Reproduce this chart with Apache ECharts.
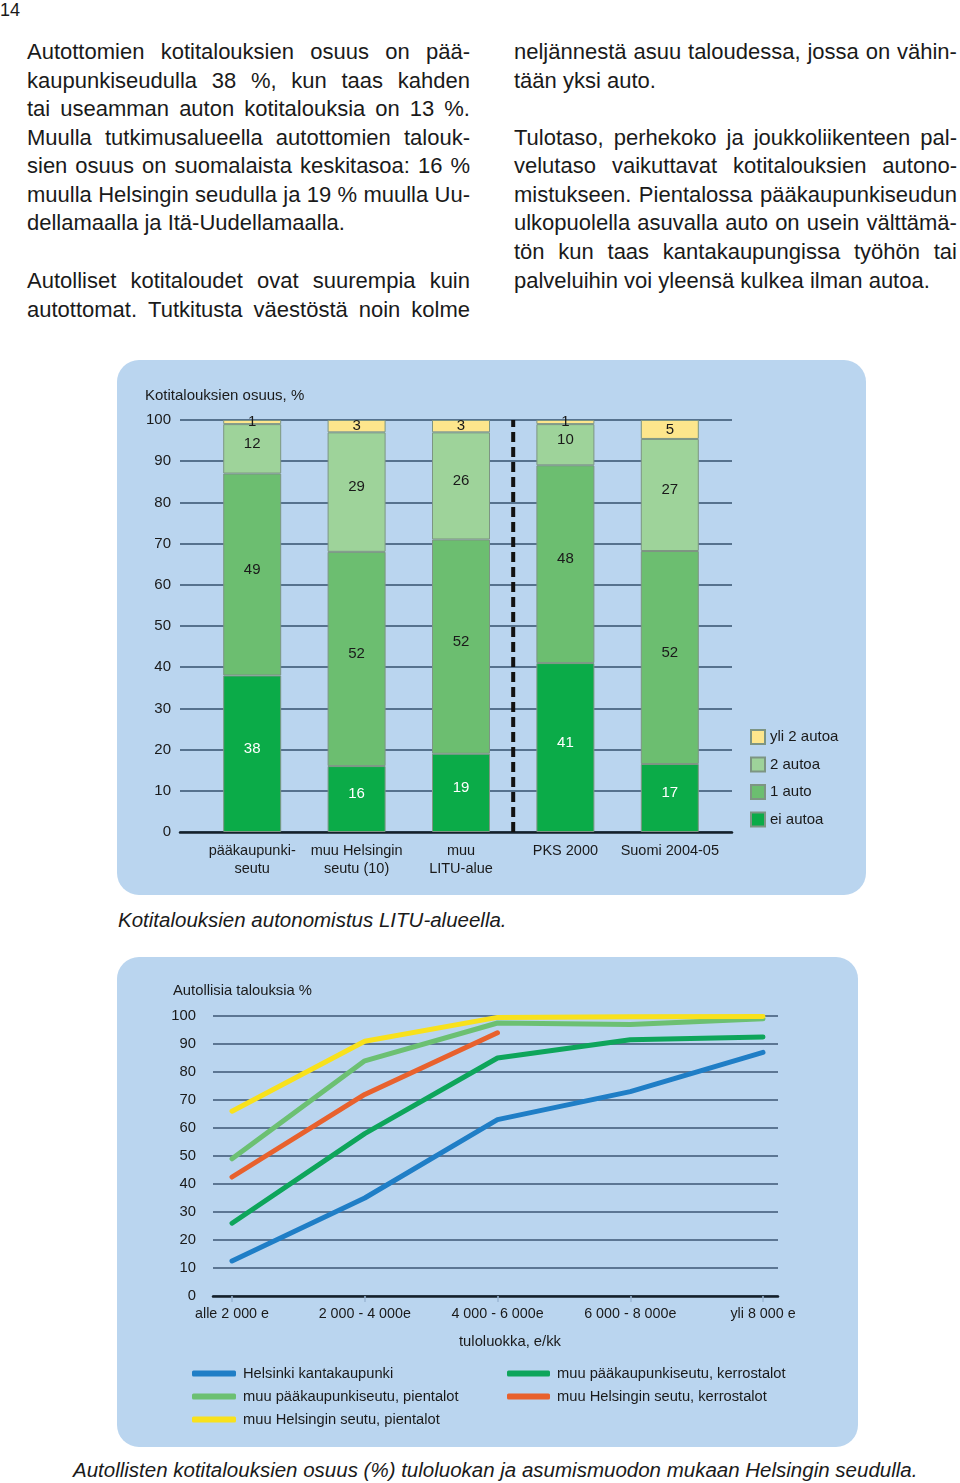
<!DOCTYPE html>
<html><head><meta charset="utf-8">
<script src="https://cdn.jsdelivr.net/npm/echarts@6/dist/echarts.min.js"></script>
<style>
html,body{margin:0;padding:0;background:#fff}
body{width:960px;height:1483px;position:relative;overflow:hidden;font-family:"Liberation Sans",Arial,sans-serif;color:#1a1a1a}
.pn{position:absolute;background:#bad5ef;border-radius:22px}
.ln{position:absolute;width:443px;height:28px;line-height:28px;font-size:22px;white-space:nowrap}
.ln.j{display:flex;justify-content:space-between}
.cap{position:absolute;font-style:italic;font-size:20.5px;line-height:24px;white-space:nowrap}
#chart{position:absolute;left:0;top:0;width:960px;height:1483px}
</style></head><body>
<div style="position:absolute;left:0;top:0;font-size:18px;line-height:20px">14</div>
<div id="txt"></div>
<div class="pn" style="left:117px;top:360px;width:749px;height:535px"></div>
<div class="pn" style="left:117px;top:957px;width:741px;height:490px"></div>
<div class="cap" style="left:118px;top:908px">Kotitalouksien autonomistus LITU-alueella.</div>
<div class="cap" style="left:73px;top:1458px">Autollisten kotitalouksien osuus (%) tuloluokan ja asumismuodon mukaan Helsingin seudulla.</div>
<div id="chart"></div>
<script>
// ---- text layout ----
const leftCol = [
  ["Autottomien kotitalouksien osuus on pää-",52,1],
  ["kaupunkiseudulla 38 %, kun taas kahden",81,1],
  ["tai useamman auton kotitalouksia on 13 %.",109,1],
  ["Muulla tutkimusalueella autottomien talouk-",138,1],
  ["sien osuus on suomalaista keskitasoa: 16 %",166,1],
  ["muulla Helsingin seudulla ja 19 % muulla Uu-",195,1],
  ["dellamaalla ja Itä-Uudellamaalla.",223,0],
  ["Autolliset kotitaloudet ovat suurempia kuin",281,1],
  ["autottomat. Tutkitusta väestöstä noin kolme",310,1]
];
const rightCol = [
  ["neljännestä asuu taloudessa, jossa on vähin-",52,1],
  ["tään yksi auto.",81,0],
  ["Tulotaso, perhekoko ja joukkoliikenteen pal-",138,1],
  ["velutaso vaikuttavat kotitalouksien autono-",166,1],
  ["mistukseen. Pientalossa pääkaupunkiseudun",195,1],
  ["ulkopuolella asuvalla auto on usein välttämä-",223,1],
  ["tön kun taas kantakaupungissa työhön tai",252,1],
  ["palveluihin voi yleensä kulkea ilman autoa.",281,0]
];
const txt = document.getElementById('txt');
function addLines(lines, left){
  lines.forEach(([t,y,j])=>{
    const d=document.createElement('div');
    d.className='ln'+(j?' j':'');
    d.style.left=left+'px'; d.style.top=(y-14)+'px';
    if(j){ t.split(' ').forEach(w=>{const s=document.createElement('span');s.textContent=w;d.appendChild(s);}); }
    else d.textContent=t;
    txt.appendChild(d);
  });
}
addLines(leftCol,27); addLines(rightCol,514);

// ---- data: bar chart ----
const barCategories = ['pääkaupunki-\nseutu','muu Helsingin\nseutu (10)','muu\nLITU-alue','PKS 2000','Suomi 2004-05'];
const eiAutoa    = [38, 16, 19, 41, 16.5];
const yksiAuto   = [49, 52, 52, 48, 51.7];
const kaksiAutoa = [12, 29, 26, 10, 27.2];
const yli2Autoa  = [1, 3, 3, 1, 4.6];
const dividerAfter = 3; // dashed separator after this many categories
const barSeriesNames = ['ei autoa','1 auto','2 autoa','yli 2 autoa'];
const barColors = ['#0bab48','#6cbe70','#9ed39a','#fde68c'];

// ---- data: line chart ----
const incomeClasses = ['alle 2 000 e','2 000 - 4 000e','4 000 - 6 000e','6 000 - 8 000e','yli 8 000 e'];
const helsinkiKantakaupunki = [12.5, 35, 63, 73, 87];
const pksKerrostalot        = [26, 58, 85, 91.5, 92.5];
const helsSeutuKerrostalot  = [42.5, 72, 94, null, null];
const pksPientalot          = [49, 84, 97.5, 97, 99];
const helsSeutuPientalot    = [66, 91, 99.5, 99.7, 99.8];
const lineNames = ['Helsinki kantakaupunki','muu pääkaupunkiseutu, kerrostalot','muu Helsingin seutu, kerrostalot','muu pääkaupunkiseutu, pientalot','muu Helsingin seutu, pientalot'];
const lineColors = ['#1f7ec6','#0ea55b','#e8612d','#6cc072','#f8e11c'];

const TXT = '#1a1a1a', FONT = '"Liberation Sans", Arial, sans-serif';
const chart = echarts.init(document.getElementById('chart'), null, {renderer:'canvas'});

const barData = [eiAutoa, yksiAuto, kaksiAutoa, yli2Autoa];
const series = [];
barData.forEach((arr,i)=>{
  series.push({
    name: barSeriesNames[i], type:'bar', stack:'s', xAxisIndex:1, yAxisIndex:1,
    barWidth:58, data:arr,
    itemStyle:{color:barColors[i], borderColor:'#7d9583', borderWidth:1},
    label:{show:true, position:'inside', formatter:p=>Math.round(p.value),
      fontSize:15, fontFamily:FONT, color: i===0?'#ffffff':TXT, textBorderWidth:0,
      offset: i===3?[0,0]:[0,-5]},
    emphasis:{disabled:true}, z:2
  });
});
series.push({
  name:'divider', type:'line', xAxisIndex:2, yAxisIndex:1, symbol:'none', silent:true,
  data:[[dividerAfter,0],[dividerAfter,100]],
  lineStyle:{color:'#111', width:4, type:[10,5]}, z:5
});
const lineData = [helsinkiKantakaupunki, pksKerrostalot, helsSeutuKerrostalot, pksPientalot, helsSeutuPientalot];
lineData.forEach((arr,i)=>{
  series.push({
    name:lineNames[i], type:'line', xAxisIndex:4, yAxisIndex:3, data:arr,
    symbol:'none', smooth:false, connectNulls:false,
    lineStyle:{color:lineColors[i], width:5, cap:'round', join:'round'},
    itemStyle:{color:lineColors[i]}, emphasis:{disabled:true}, z:3+i
  });
});

const option = {
  animation:false,
  textStyle:{fontFamily:FONT},
  title:[
    {text:'Kotitalouksien osuus, %', left:145, top:388, padding:0, textStyle:{fontSize:15, fontWeight:'normal', color:TXT, fontFamily:FONT}},
    {text:'Autollisia talouksia %', left:173, top:983, padding:0, textStyle:{fontSize:14.8, fontWeight:'normal', color:TXT, fontFamily:FONT}},
    {text:'tuloluokka, e/kk', left:459, top:1334, padding:0, textStyle:{fontSize:14.8, fontWeight:'normal', color:TXT, fontFamily:FONT}}
  ],
  legend:[
    {data:['yli 2 autoa','2 autoa','1 auto','ei autoa'], orient:'vertical', left:750, top:729, padding:0,
      icon:'rect', itemWidth:14, itemHeight:14, itemGap:11.5, selectedMode:false,
      textStyle:{fontSize:15, lineHeight:15, color:TXT, fontFamily:FONT}},
    {data:[lineNames[0],lineNames[3],lineNames[4]], orient:'vertical', left:192, top:1366, padding:0,
      icon:'roundRect', itemWidth:44, itemHeight:6, itemGap:8, selectedMode:false,
      textStyle:{fontSize:14.7, lineHeight:15, color:TXT, fontFamily:FONT, padding:[0,0,0,2]}},
    {data:[lineNames[1],lineNames[2]], orient:'vertical', left:507, top:1366, padding:0,
      icon:'roundRect', itemWidth:43, itemHeight:6, itemGap:8, selectedMode:false,
      textStyle:{fontSize:14.7, lineHeight:15, color:TXT, fontFamily:FONT, padding:[0,0,0,2]}}
  ],
  grid:[
    {left:180, top:420, width:552, height:412},
    {left:200, top:420, width:522, height:412},
    {left:213, top:1016, width:565, height:280},
    {left:232, top:1016, width:531, height:280}
  ],
  xAxis:[
    {gridIndex:0, type:'value', min:0, max:1, axisLine:{show:true, lineStyle:{color:'#15202b', width:2.5}}, axisTick:{show:false}, axisLabel:{show:false}, splitLine:{show:false}},
    {gridIndex:1, type:'category', data:barCategories, axisLine:{show:false}, axisTick:{show:false},
      axisLabel:{margin:10, fontSize:14.5, lineHeight:18, color:TXT, fontFamily:FONT, interval:0}},
    {gridIndex:1, type:'value', min:0, max:barCategories.length, show:false},
    {gridIndex:2, type:'value', min:0, max:1, axisLine:{show:true, lineStyle:{color:'#15202b', width:2.5}}, axisTick:{show:false}, axisLabel:{show:false}, splitLine:{show:false}},
    {gridIndex:3, type:'category', data:incomeClasses, boundaryGap:false, axisLine:{show:false},
      axisTick:{show:true, length:6, lineStyle:{color:'#9cb8d6', width:1.5}},
      axisLabel:{margin:11, fontSize:14.3, color:TXT, fontFamily:FONT, interval:0}}
  ],
  yAxis:[
    {gridIndex:0, type:'value', min:0, max:100, interval:10, axisLine:{show:false}, axisTick:{show:false},
      axisLabel:{margin:9, fontSize:15, color:TXT, fontFamily:FONT}, splitLine:{lineStyle:{color:'#34506e', width:1.5}}},
    {gridIndex:1, type:'value', min:0, max:100, show:false},
    {gridIndex:2, type:'value', min:0, max:100, interval:10, axisLine:{show:false}, axisTick:{show:false},
      axisLabel:{margin:17, fontSize:14.8, color:TXT, fontFamily:FONT}, splitLine:{lineStyle:{color:'#3d5674', width:1.5}}},
    {gridIndex:3, type:'value', min:0, max:100, show:false}
  ],
  series: series
};
chart.setOption(option);
</script>
</body></html>
